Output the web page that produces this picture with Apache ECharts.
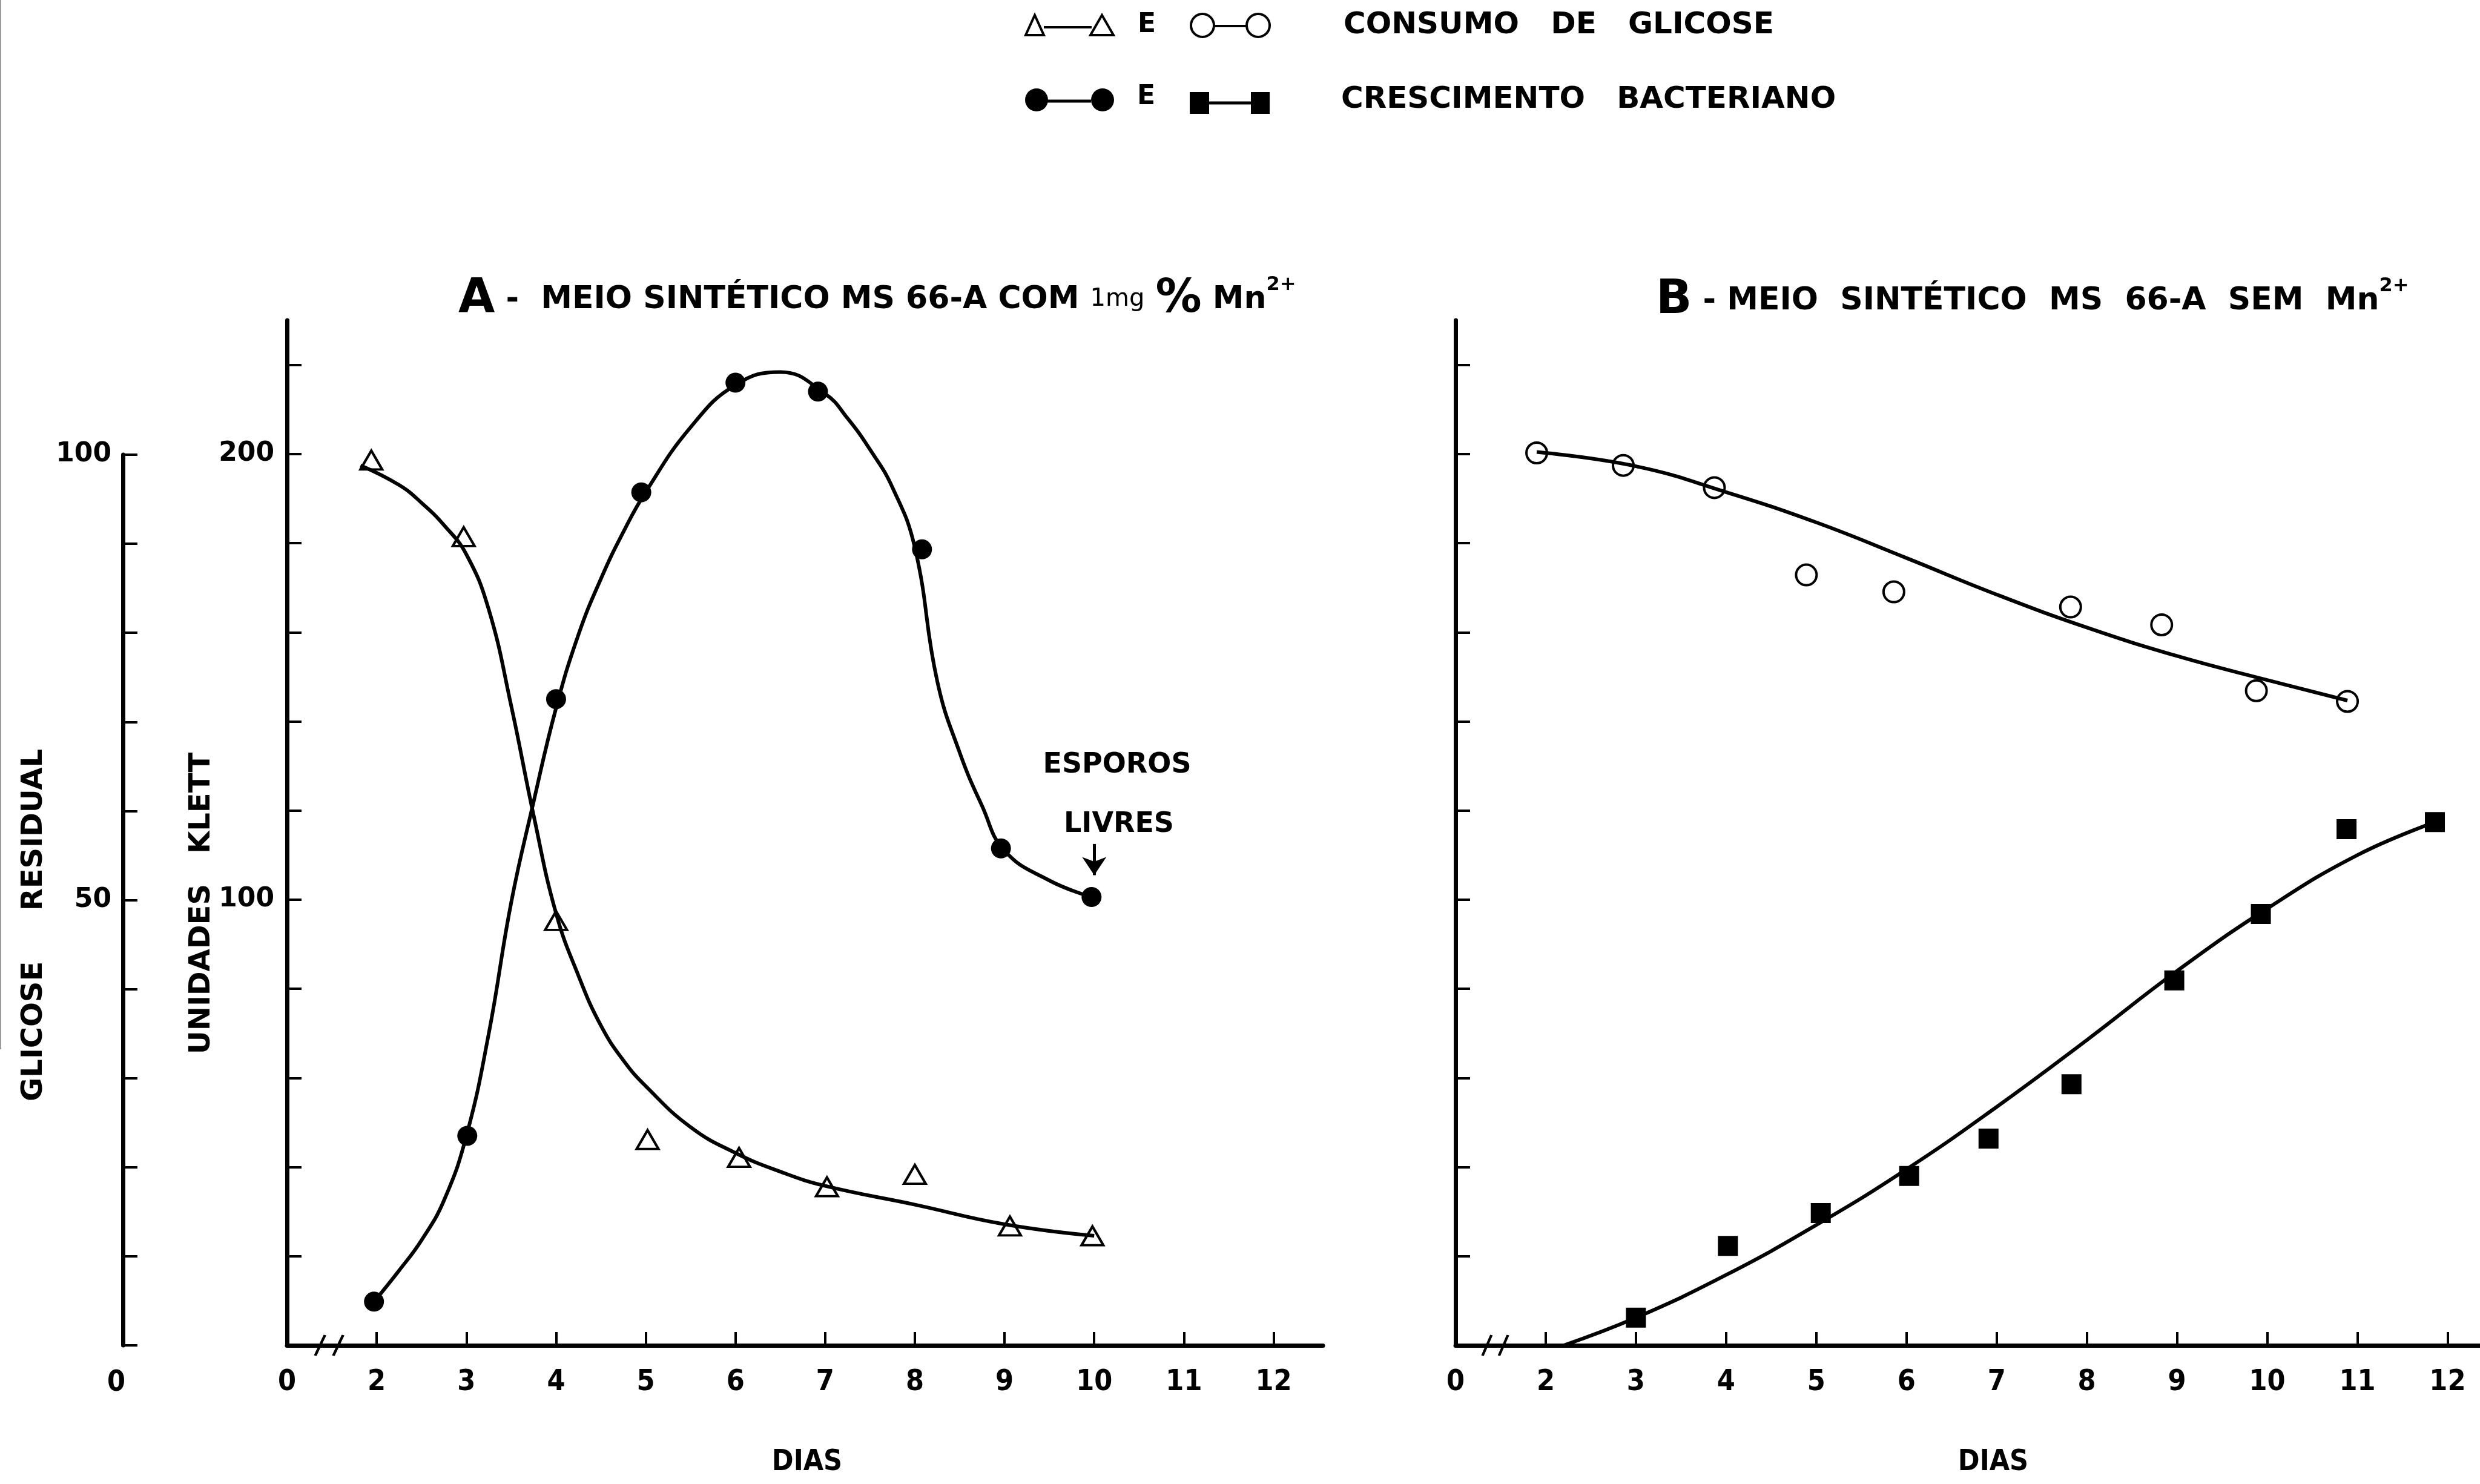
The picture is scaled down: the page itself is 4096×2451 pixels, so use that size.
<!DOCTYPE html>
<html>
<head>
<meta charset="utf-8">
<title>Consumo de glicose e crescimento bacteriano</title>
<script src="https://cdn.jsdelivr.net/npm/echarts@6/dist/echarts.min.js"></script>
<style>
  html, body { margin: 0; padding: 0; background: #fff; }
  #chart { width: 4096px; height: 2451px; }
</style>
</head>
<body>
<div id="chart"></div>
<script>
// eixos
const dayLabels = [1, 2, 3, 4, 5, 6, 7, 8, 9, 10, 11, 12]; // o 1 (origem) aparece como "0"
const dayTicks = [2, 3, 4, 5, 6, 7, 8, 9, 10, 11, 12];
const klettTicks = [20, 40, 60, 80, 100, 120, 140, 160, 180, 200, 220];
const klettLabels = [100, 200];
const glucoseLabels = [50, 100];

// A - meio com 1 mg% Mn2+
const glucoseDaysA = [1.94, 2.97, 4.0, 5.02, 6.04, 7.02, 8.0, 9.06, 9.98];
const glucoseA = [99.4, 90.8, 47.7, 23.1, 21.1, 17.8, 19.2, 13.4, 12.3];
const klettDaysA = [1.97, 3.01, 4.0, 4.95, 6.0, 6.92, 8.08, 8.96, 9.97];
const klettA = [9.8, 47, 145, 191.4, 216, 214, 178.6, 111.5, 100.6];

// curvas traçadas à mão no original
const glucoseCurveAX = [1.82, 2.25, 2.5, 2.75, 3.0, 3.25, 3.5, 3.75, 4.0, 4.25, 4.5, 4.75, 5.0, 5.5, 6.0, 6.5, 7.0, 8.0, 9.0, 10.0];
const glucoseCurveAY = [98.8, 96.6, 94.6, 92.1, 88.8, 82.6, 71.8, 59.5, 48.5, 41.5, 35.9, 32, 29.1, 24.5, 21.6, 19.5, 17.9, 15.8, 13.6, 12.3];
const klettCurveAX = [1.97, 2.25, 2.5, 2.75, 3.0, 3.25, 3.5, 3.75, 4.0, 4.25, 4.5, 4.75, 5.0, 5.5, 6.0, 6.5, 7.0, 7.25, 7.5, 7.75, 8.0, 8.25, 8.5, 8.75, 9.0, 9.5, 9.97];
const klettCurveAY = [9.8, 16.8, 23.6, 32.5, 47, 70, 99.4, 122, 143, 159.5, 172, 182.5, 191.5, 206, 215.5, 218.4, 213.5, 208, 201, 192.5, 179, 149, 133, 121, 111, 104.3, 100.6];

// B - meio sem Mn2+
const glucoseDaysB = [1.9, 2.86, 3.87, 4.89, 5.86, 7.82, 8.83, 9.88, 10.89];
const glucoseB = [100.2, 98.8, 96.3, 86.5, 84.6, 82.9, 80.9, 73.5, 72.3];
const klettDaysB = [3.0, 4.02, 5.05, 6.03, 6.91, 7.83, 8.97, 9.93, 10.88, 11.86];
const klettB = [6.2, 22.3, 29.7, 38, 46.4, 58.6, 81.9, 96.8, 115.8, 117.4];

const glucoseCurveBX = [1.9, 3.0, 4.0, 5.0, 6.0, 7.0, 8.0, 9.0, 10.0, 10.89];
const glucoseCurveBY = [100.3, 98.7, 95.8, 92.4, 88.4, 84.3, 80.6, 77.4, 74.7, 72.4];
const klettCurveBX = [2.2, 3.0, 4.0, 5.0, 6.0, 7.0, 8.0, 9.0, 10.0, 11.0, 11.86];
const klettCurveBY = [0, 6.2, 15.8, 27, 39.5, 53.5, 68.5, 84, 98, 110, 117.4];

const zip = (xs, ys) => xs.map((x, i) => [x, ys[i]]);

const WIDE = "'DejaVu Sans', 'Noto Sans', sans-serif";
const COND = "'DejaVu Sans Condensed', 'Liberation Sans Narrow', 'DejaVu Sans', sans-serif";
const BLACK = '#000';
const breakSymbol = 'path://M0,34L14,0M26,34L40,0';

let chart = echarts.init(document.getElementById('chart'));

function xAxis(grid, max, visible) {
  if (!visible) return { gridIndex: grid, type: 'value', min: 1, max: max, show: false };
  return {
    gridIndex: grid, type: 'value', min: 1, max: max,
    axisLine: { show: true, onZero: false, lineStyle: { color: BLACK, width: 7 } },
    axisTick: { show: true, inside: true, length: 22, customValues: dayTicks, lineStyle: { color: BLACK, width: 4 } },
    axisLabel: {
      customValues: dayLabels, margin: 38,
      formatter: v => (v === 1 ? '0' : String(v)),
      color: BLACK, fontSize: 48, fontWeight: 'bold', fontFamily: COND
    },
    splitLine: { show: false }
  };
}

function klettAxis(grid, withLabels) {
  return {
    gridIndex: grid, type: 'value', min: 0, max: 230, position: 'left',
    axisLine: { show: true, lineStyle: { color: BLACK, width: 7 } },
    axisTick: { show: true, inside: true, length: 24, customValues: klettTicks, lineStyle: { color: BLACK, width: 4 } },
    axisLabel: {
      show: withLabels, customValues: klettLabels, margin: 21,
      color: BLACK, fontSize: 44, fontWeight: 'bold', fontFamily: WIDE
    },
    splitLine: { show: false }
  };
}

function curve(xi, data) {
  return {
    type: 'line', xAxisIndex: xi, yAxisIndex: xi, data: data, clip: false,
    smooth: 0.45, symbol: 'none', silent: true, lineStyle: { color: BLACK, width: 6 }
  };
}

function text(x, y, str, size, family, extra) {
  return Object.assign({
    type: 'text', x: x, y: y, silent: true,
    style: { text: str, fill: BLACK, fontSize: size, fontWeight: 'bold', fontFamily: family, align: 'center', verticalAlign: 'middle' }
  }, extra || {});
}

function seg(x1, y1, x2, y2, w) {
  return { type: 'line', silent: true, shape: { x1: x1, y1: y1, x2: x2, y2: y2 }, style: { stroke: BLACK, lineWidth: w } };
}

const titleRich = {
  big: { fontSize: 78, fontWeight: 'bold', fontFamily: WIDE, lineHeight: 80 },
  n: { fontSize: 52, fontWeight: 'bold', fontFamily: WIDE, lineHeight: 80 },
  sm: { fontSize: 40, fontWeight: 'normal', fontFamily: WIDE, lineHeight: 80 },
  pc: { fontSize: 76, fontWeight: 'bold', fontFamily: WIDE, lineHeight: 80 },
  sup: { fontSize: 32, fontWeight: 'bold', fontFamily: WIDE, lineHeight: 34, verticalAlign: 'top' }
};

let option = {
  animation: false,
  backgroundColor: '#fff',
  grid: [
    { left: 474, right: 1911, top: 529, bottom: 229, outerBoundsMode: 'none' },
    { left: 474, right: 1911, top: 751, bottom: 229, outerBoundsMode: 'none' },
    { left: 2404, right: 0, top: 529, bottom: 229, outerBoundsMode: 'none' },
    { left: 2404, right: 0, top: 751, bottom: 229, outerBoundsMode: 'none' }
  ],
  xAxis: [
    xAxis(0, 12.55, true),
    xAxis(1, 12.55, false),
    xAxis(2, 12.36, true),
    xAxis(3, 12.36, false)
  ],
  yAxis: [
    klettAxis(0, true),
    {
      gridIndex: 1, type: 'value', min: 0, max: 100, interval: 10, position: 'left', offset: 271,
      axisLine: { show: true, lineStyle: { color: BLACK, width: 7 } },
      axisTick: { show: true, inside: true, length: 24, lineStyle: { color: BLACK, width: 4 } },
      axisLabel: {
        customValues: glucoseLabels, margin: 19,
        color: BLACK, fontSize: 44, fontWeight: 'bold', fontFamily: WIDE
      },
      splitLine: { show: false }
    },
    klettAxis(2, false),
    { gridIndex: 3, type: 'value', min: 0, max: 100, show: false }
  ],
  series: [
    // A
    curve(1, zip(glucoseCurveAX, glucoseCurveAY)),
    curve(0, zip(klettCurveAX, klettCurveAY)),
    {
      type: 'scatter', xAxisIndex: 1, yAxisIndex: 1, data: zip(glucoseDaysA, glucoseA), clip: false,
      symbol: 'triangle', symbolSize: [36, 31], silent: true,
      itemStyle: { color: '#fff', borderColor: BLACK, borderWidth: 4, opacity: 1 }
    },
    {
      type: 'scatter', xAxisIndex: 0, yAxisIndex: 0, data: zip(klettDaysA, klettA), clip: false,
      symbol: 'circle', symbolSize: 33, silent: true,
      itemStyle: { color: BLACK, opacity: 1 },
      markLine: {
        silent: true, symbol: ['none', 'arrow'], symbolSize: 30,
        label: { show: false },
        lineStyle: { color: BLACK, width: 5, type: 'solid' },
        data: [[{ coord: [10, 112.5] }, { coord: [10, 105.5] }]]
      }
    },
    {
      type: 'scatter', xAxisIndex: 0, yAxisIndex: 0, data: [[1.47, 0]], clip: false,
      symbol: breakSymbol, symbolSize: [46, 34], silent: true,
      itemStyle: { color: 'none', borderColor: BLACK, borderWidth: 4, opacity: 1 }
    },
    // B
    curve(3, zip(glucoseCurveBX, glucoseCurveBY)),
    curve(2, zip(klettCurveBX, klettCurveBY)),
    {
      type: 'scatter', xAxisIndex: 3, yAxisIndex: 3, data: zip(glucoseDaysB, glucoseB), clip: false,
      symbol: 'circle', symbolSize: 34, silent: true,
      itemStyle: { color: '#fff', borderColor: BLACK, borderWidth: 4, opacity: 1 }
    },
    {
      type: 'scatter', xAxisIndex: 2, yAxisIndex: 2, data: zip(klettDaysB, klettB), clip: false,
      symbol: 'rect', symbolSize: 33, silent: true,
      itemStyle: { color: BLACK, opacity: 1 }
    },
    {
      type: 'scatter', xAxisIndex: 2, yAxisIndex: 2, data: [[1.44, 0]], clip: false,
      symbol: breakSymbol, symbolSize: [42, 34], silent: true,
      itemStyle: { color: 'none', borderColor: BLACK, borderWidth: 4, opacity: 1 }
    }
  ],
  graphic: {
    elements: [
      // borda cinza do scan
      { type: 'line', silent: true, shape: { x1: 1, y1: 0, x2: 1, y2: 1733 }, style: { stroke: '#999', lineWidth: 2 } },

      // legenda, linha 1
      { type: 'polygon', silent: true, shape: { points: [[1694, 58], [1709, 25], [1724, 58]] }, style: { fill: '#fff', stroke: BLACK, lineWidth: 4 } },
      seg(1724, 45, 1803, 45, 4),
      { type: 'polygon', silent: true, shape: { points: [[1801, 58], [1820, 25], [1839, 58]] }, style: { fill: '#fff', stroke: BLACK, lineWidth: 4 } },
      text(1894, 42, 'E', 44, WIDE),
      seg(2005, 43, 2059, 43, 4),
      { type: 'circle', silent: true, shape: { cx: 1986, cy: 42, r: 19 }, style: { fill: '#fff', stroke: BLACK, lineWidth: 4 } },
      { type: 'circle', silent: true, shape: { cx: 2078, cy: 42, r: 19 }, style: { fill: '#fff', stroke: BLACK, lineWidth: 4 } },
      text(2219, 42, 'CONSUMO   DE   GLICOSE', 50, WIDE),

      // legenda, linha 2
      seg(1730, 167, 1802, 167, 5),
      { type: 'circle', silent: true, shape: { cx: 1712, cy: 165, r: 19 }, style: { fill: BLACK } },
      { type: 'circle', silent: true, shape: { cx: 1821, cy: 165, r: 19 }, style: { fill: BLACK } },
      text(1893, 161, 'E', 44, WIDE),
      seg(1997, 170, 2066, 170, 5),
      { type: 'rect', silent: true, shape: { x: 1965, y: 152, width: 32, height: 36 }, style: { fill: BLACK } },
      { type: 'rect', silent: true, shape: { x: 2066, y: 152, width: 31, height: 36 }, style: { fill: BLACK } },
      text(2215, 165, 'CRESCIMENTO   BACTERIANO', 50, WIDE),

      // títulos
      {
        type: 'text', x: 757, y: 495, silent: true,
        style: {
          text: '{big|A}{n| -  MEIO SINTÉTICO MS 66-A COM }{sm|1mg}{n| }{pc|%}{n| Mn}{sup|2+}',
          rich: titleRich, fill: BLACK, align: 'left', verticalAlign: 'middle'
        }
      },
      {
        type: 'text', x: 2735, y: 497, silent: true,
        style: {
          text: '{big|B}{n| - MEIO  SINTÉTICO  MS  66-A  SEM  Mn}{sup|2+}',
          rich: titleRich, fill: BLACK, align: 'left', verticalAlign: 'middle'
        }
      },

      // nomes dos eixos
      text(57, 1528, 'GLICOSE     RESIDUAL', 48, WIDE, { rotation: Math.PI / 2 }),
      text(334, 1492, 'UNIDADES   KLETT', 48, WIDE, { rotation: Math.PI / 2 }),
      text(192, 2285, '0', 48, COND),
      text(1333, 2416, 'DIAS', 48, COND),
      text(3292, 2416, 'DIAS', 48, COND),

      // anotação
      text(1845, 1264, 'ESPOROS', 46, WIDE),
      text(1848, 1362, 'LIVRES', 46, WIDE)
    ]
  }
};

// alinhar à esquerda os textos da legenda
option.graphic.elements.forEach(el => {
  if (el.type === 'text' && /CONSUMO|CRESCIMENTO/.test(el.style.text)) el.style.align = 'left';
});

chart.setOption(option);
window.addEventListener('resize', () => chart.resize());
</script>
</body>
</html>
